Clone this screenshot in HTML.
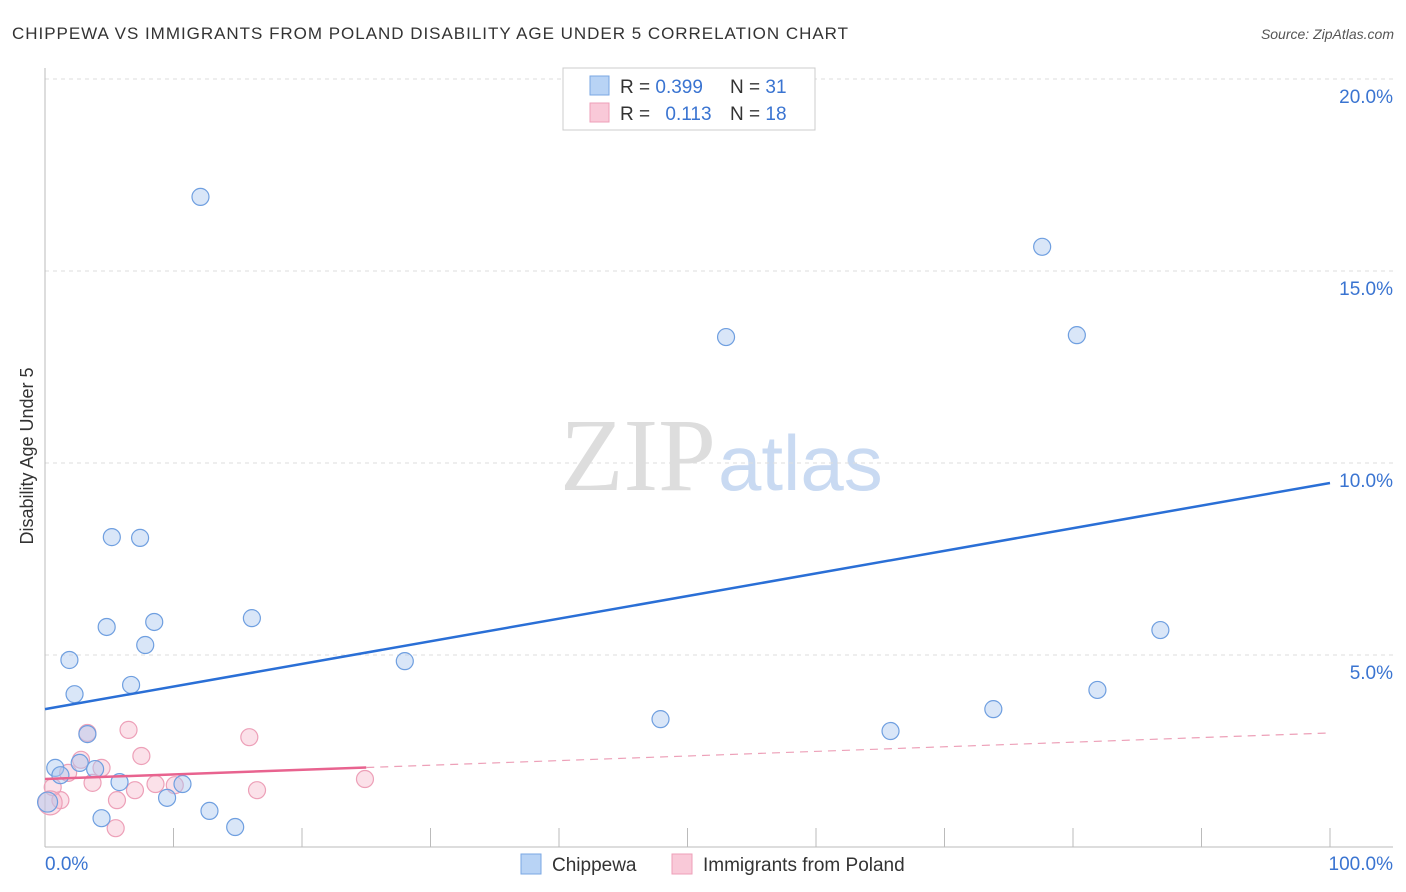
<!DOCTYPE html>
<html><head><meta charset="utf-8"><style>
body{margin:0;background:#fff;font-family:"Liberation Sans",sans-serif}
svg{display:block}
</style></head><body>
<svg width="1406" height="892" id="c">
<text x="12" y="39" font-size="17" fill="#333" textLength="836" lengthAdjust="spacing">CHIPPEWA VS IMMIGRANTS FROM POLAND DISABILITY AGE UNDER 5 CORRELATION CHART</text>
<text x="1394" y="39" font-size="14" fill="#555" font-style="italic" text-anchor="end">Source: ZipAtlas.com</text>
<text x="716" y="490" font-size="104" fill="#ddd" font-family="Liberation Serif,serif" text-anchor="end">ZIP</text>
<text x="718" y="490" font-size="78" fill="#c9daf2">atlas</text>
<text transform="translate(33,456) rotate(-90)" font-size="18" fill="#333" text-anchor="middle">Disability Age Under 5</text>
<g id="grid"></g><g id="marks"></g>
<g>
<rect x="563" y="68" width="252" height="62" fill="#fff" stroke="#ccc"/>
<rect x="590" y="76" width="19" height="19" fill="#b8d3f5" stroke="#7aa7e3"/>
<rect x="590" y="103" width="19" height="19" fill="#f9c9d8" stroke="#ee9fb8"/>
<text x="620" y="93" font-size="19" fill="#333">R = <tspan fill="#3a74d1">0.399</tspan></text>
<text x="730" y="93" font-size="19" fill="#333">N = <tspan fill="#3a74d1">31</tspan></text>
<text x="620" y="120" font-size="19" fill="#333">R = <tspan fill="#3a74d1" dx="10">0.113</tspan></text>
<text x="730" y="120" font-size="19" fill="#333">N = <tspan fill="#3a74d1">18</tspan></text>
</g>
<g>
<rect x="521" y="854" width="20" height="20" fill="#b8d3f5" stroke="#7aa7e3"/>
<text x="552" y="871" font-size="19" fill="#333">Chippewa</text>
<rect x="672" y="854" width="20" height="20" fill="#f9c9d8" stroke="#ee9fb8"/>
<text x="703" y="871" font-size="19" fill="#333">Immigrants from Poland</text>
</g>
</svg>
<script>
const yTicks=[5,10,15,20];
const blueX=[12.1,77.6,53.0,80.3,5.2,7.4,4.8,8.5,16.1,7.8,1.9,28.0,86.8,2.3,6.7,81.9,47.9,73.8,65.8,3.3,2.7,0.8,1.2,3.9,5.8,10.7,9.5,12.8,4.4,14.8,0.2];
const blueY=[16.93,15.63,13.28,13.33,8.07,8.05,5.73,5.86,5.96,5.26,4.87,4.84,5.65,3.98,4.22,4.09,3.33,3.59,3.02,2.94,2.19,2.06,1.87,2.03,1.69,1.64,1.28,0.94,0.75,0.52,1.17];
const pinkX=[3.3,6.5,15.9,7.5,2.8,4.4,1.8,3.7,8.6,7.0,16.5,24.9,5.6,1.2,0.6,5.5,0.4,10.1];
const pinkY=[2.97,3.05,2.86,2.37,2.27,2.06,1.93,1.67,1.64,1.48,1.48,1.77,1.22,1.22,1.56,0.49,1.15,1.61];
const blueTrend=[3.59,9.48];
const pinkTrend=[1.77,2.97];
const pinkSolidEnd=25;
const X=v=>45+v*12.85, Y=v=>847-v*38.4;
const NS='http://www.w3.org/2000/svg';
const g=document.getElementById('grid'), m=document.getElementById('marks');
function el(t,a,p){const e=document.createElementNS(NS,t);for(const k in a)e.setAttribute(k,a[k]);p.appendChild(e);return e;}
yTicks.forEach(t=>{
 const l=el('line',{x1:45,x2:1393,y1:Y(t),y2:Y(t),stroke:'#ddd','stroke-dasharray':'4,4'},g);
 
 
 const tx=el('text',{x:1393,y:Y(t)+24,'font-size':19,fill:'#3a74d1','text-anchor':'end'},g);
 tx.textContent=t.toFixed(1)+'%';
 
 
});
el('line',{x1:45,x2:45,y1:68,y2:847,stroke:'#bbb'},g);
el('line',{x1:45,x2:1393,y1:847,y2:847,stroke:'#bbb'},g);
for(let i=1;i<=10;i++){el('line',{x1:X(i*10),x2:X(i*10),y1:828,y2:847,stroke:'#bbb'},g);}
const t0=el('text',{x:45,y:870,'font-size':19,fill:'#3a74d1'},g);t0.textContent='0.0%';


const t1=el('text',{x:1393,y:870,'font-size':19,fill:'#3a74d1','text-anchor':'end'},g);t1.textContent='100.0%';


pinkX.forEach((x,i)=>{const c=el('circle',{cx:X(x),cy:Y(pinkY[i]),r:i==16?12:8.5,fill:'rgba(246,180,200,0.4)',stroke:'#eda0b8','stroke-width':1.2},m);
 
 });
blueX.forEach((x,i)=>{const c=el('circle',{cx:X(x),cy:Y(blueY[i]),r:i==30?10:8.5,fill:'rgba(170,200,240,0.45)',stroke:'#6f9fe0','stroke-width':1.2},m);
 
 });
const bl=el('line',{x1:X(0),y1:Y(blueTrend[0]),x2:X(100),y2:Y(blueTrend[1]),stroke:'#2a6fd6','stroke-width':2.5},m);


const pe=pinkTrend[0]+(pinkTrend[1]-pinkTrend[0])*pinkSolidEnd/100;
const pl=el('line',{x1:X(0),y1:Y(pinkTrend[0]),x2:X(pinkSolidEnd),y2:Y(pe),stroke:'#e8638f','stroke-width':2.5},m);


const pd=el('line',{x1:X(pinkSolidEnd),y1:Y(pe),x2:X(100),y2:Y(pinkTrend[1]),stroke:'#eda0b8','stroke-width':1.2,'stroke-dasharray':'8,6'},m);


</script>
</body></html>
